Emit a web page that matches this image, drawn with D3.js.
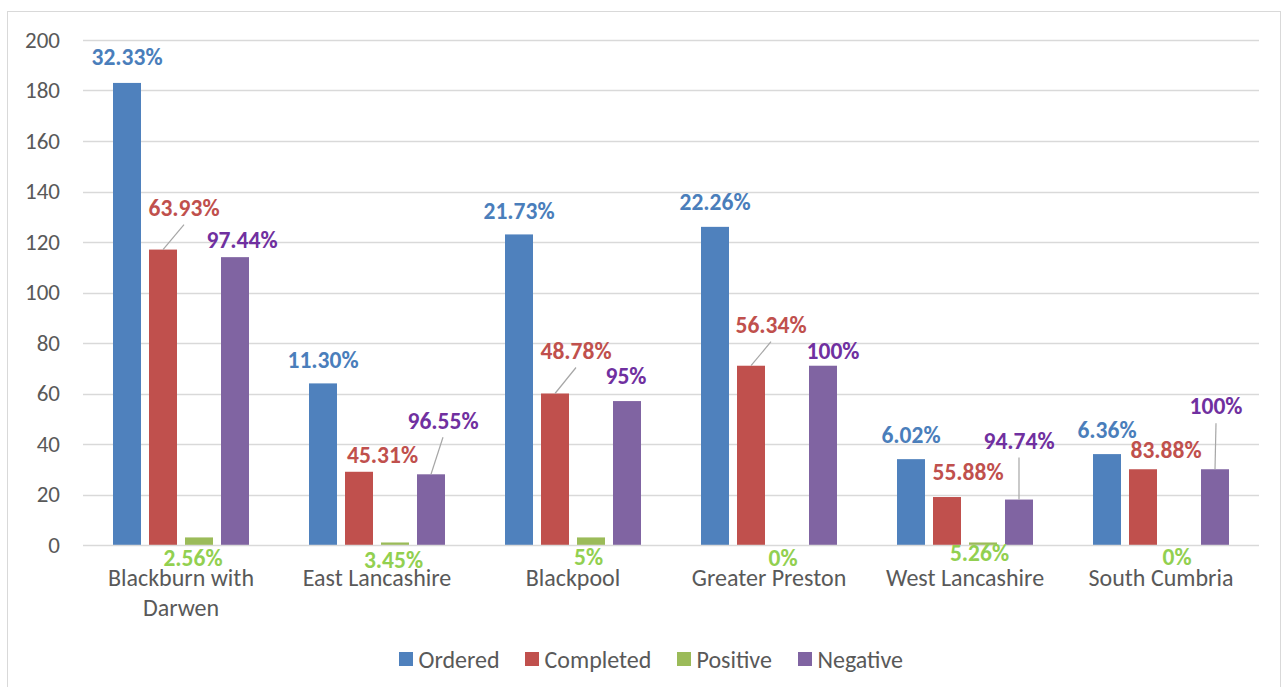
<!DOCTYPE html>
<html>
<head>
<meta charset="utf-8">
<script src="https://cdn.jsdelivr.net/npm/d3@7"></script>
<style>
  html, body { margin: 0; padding: 0; background: #fff; }
  svg { display: block; font-family: Carlito, Lato, "Open Sans", sans-serif; }
</style>
</head>
<body>
<svg id="chart" width="1283" height="687"></svg>
<script>
// ---- data ----
const categories = ["Blackburn with Darwen", "East Lancashire", "Blackpool", "Greater Preston", "West Lancashire", "South Cumbria"];
const seriesNames = ["Ordered", "Completed", "Positive", "Negative"];
const ordered   = [183, 64, 123, 126, 34, 36];
const completed = [117, 29, 60, 71, 19, 30];
const positive  = [3, 1, 3, 0, 1, 0];
const negative  = [114, 28, 57, 71, 18, 30];
const orderedLabels   = ["32.33%", "11.30%", "21.73%", "22.26%", "6.02%", "6.36%"];
const completedLabels = ["63.93%", "45.31%", "48.78%", "56.34%", "55.88%", "83.88%"];
const positiveLabels  = ["2.56%", "3.45%", "5%", "0%", "5.26%", "0%"];
const negativeLabels  = ["97.44%", "96.55%", "95%", "100%", "94.74%", "100%"];
const yTicks = [0, 20, 40, 60, 80, 100, 120, 140, 160, 180, 200];

// ---- styling / layout ----
const barColors   = ["#4f81bd", "#c0504d", "#9bbb59", "#8064a2"];
const labelColors = ["#4a7ebb", "#c0504d", "#92d050", "#7030a0"];
// label offsets (dx from bar centre, dy from bar top to label centre), leader flag
const labelLayout = [
  [[0,-26,0],[21,-42,1],[-6,20.6,0],[7,-17,0]],
  [[0,-24,0],[23.5,-17,0],[-1.5,17,0],[12,-54,1]],
  [[0,-24,0],[21,-43,1],[-2.5,19.6,0],[-1,-25,0]],
  [[0,-25,0],[20,-41,1],[-4,13,0],[10,-15,0]],
  [[0,-24,0],[21,-25,0],[-3.5,10.5,0],[0,-59,1]],
  [[0,-24,0],[23,-19,0],[-2,12,0],[1,-63,1]]
];

const values = [ordered, completed, positive, negative];
const labels = [orderedLabels, completedLabels, positiveLabels, negativeLabels];

const svg = d3.select("#chart");
const plot = { left: 83, right: 1259, top: 40, bottom: 545 };

// outer frame
svg.append("rect").attr("x", 7.5).attr("y", 11.5).attr("width", 1273).attr("height", 700)
  .attr("fill", "none").attr("stroke", "#d9d9d9").attr("stroke-width", 1);

const x0 = d3.scaleBand().domain(categories).range([plot.left, plot.right])
  .paddingInner(60 / 196).paddingOuter(30 / 196);
const x1 = d3.scaleBand().domain(seriesNames).range([0, x0.bandwidth()])
  .paddingInner(8 / 36).paddingOuter(0);
const y = d3.scaleLinear().domain([0, 200]).range([plot.bottom, plot.top]);

// gridlines
svg.append("g").selectAll("line").data(yTicks.filter(d => d > 0)).join("line")
  .attr("x1", plot.left).attr("x2", plot.right)
  .attr("y1", d => Math.round(y(d)) + 0.5).attr("y2", d => Math.round(y(d)) + 0.5)
  .attr("stroke", "#d9d9d9").attr("stroke-width", 1.3);

// y axis labels
const yAxis = d3.axisLeft(y).tickValues(yTicks).tickSize(0).tickPadding(0);
const gy = svg.append("g").attr("transform", `translate(60,0)`).call(yAxis);
gy.select(".domain").remove();
gy.selectAll("text").attr("font-size", 23).attr("fill", "#595959")
  .style("font-family", "Carlito, Lato, sans-serif");

// bars
categories.forEach((cat, i) => {
  seriesNames.forEach((s, j) => {
    const v = values[j][i];
    if (v <= 0) return;
    svg.append("rect")
      .attr("x", x0(cat) + x1(s)).attr("width", x1.bandwidth())
      .attr("y", y(v)).attr("height", y(0) - y(v))
      .attr("fill", barColors[j]);
  });
});

// baseline
svg.append("line").attr("x1", plot.left).attr("x2", plot.right)
  .attr("y1", y(0) + 0.5).attr("y2", y(0) + 0.5)
  .attr("stroke", "#d9d9d9").attr("stroke-width", 1.5);

// x category labels
const xAxis = d3.axisBottom(x0).tickSize(0).tickPadding(0);
const gx = svg.append("g").attr("transform", `translate(0,${y(0)})`).call(xAxis);
gx.select(".domain").remove();
gx.selectAll(".tick text").each(function(d) {
  const t = d3.select(this);
  t.text(null).attr("font-size", 24).attr("fill", "#595959")
    .style("font-family", "Carlito, Lato, sans-serif").attr("dy", null).attr("y", 0);
  const lines = d === "Blackburn with Darwen" ? ["Blackburn with", "Darwen"] : [d];
  lines.forEach((ln, k) => {
    t.append("tspan").attr("x", 0).attr("y", 40.5 + k * 30).text(ln);
  });
});

// data labels + leader lines
categories.forEach((cat, i) => {
  seriesNames.forEach((s, j) => {
    const v = values[j][i];
    const bx = x0(cat) + x1(s) + x1.bandwidth() / 2;
    const by = y(v);
    const [dx, dy, leader] = labelLayout[i][j];
    const lx = bx + dx, ly = by + dy;
    if (leader) {
      svg.append("line").attr("x1", bx).attr("y1", by).attr("x2", lx).attr("y2", ly + 17)
        .attr("stroke", "#a6a6a6").attr("stroke-width", 1.2);
    }
    svg.append("text").attr("x", lx).attr("y", ly).attr("dy", "0.35em")
      .attr("text-anchor", "middle").attr("font-size", 23.5).attr("font-weight", "bold")
      .attr("fill", labelColors[j]).text(labels[j][i]);
  });
});

// legend
const legendX = [399, 525, 677, 798];
const lg = svg.append("g");
seriesNames.forEach((s, j) => {
  lg.append("rect").attr("x", legendX[j]).attr("y", 652).attr("width", 14).attr("height", 14)
    .attr("fill", barColors[j]);
  lg.append("text").attr("x", legendX[j] + 19.5).attr("y", 660).attr("dy", "0.35em")
    .attr("font-size", 24).attr("fill", "#595959").text(s);
});
</script>
</body>
</html>
